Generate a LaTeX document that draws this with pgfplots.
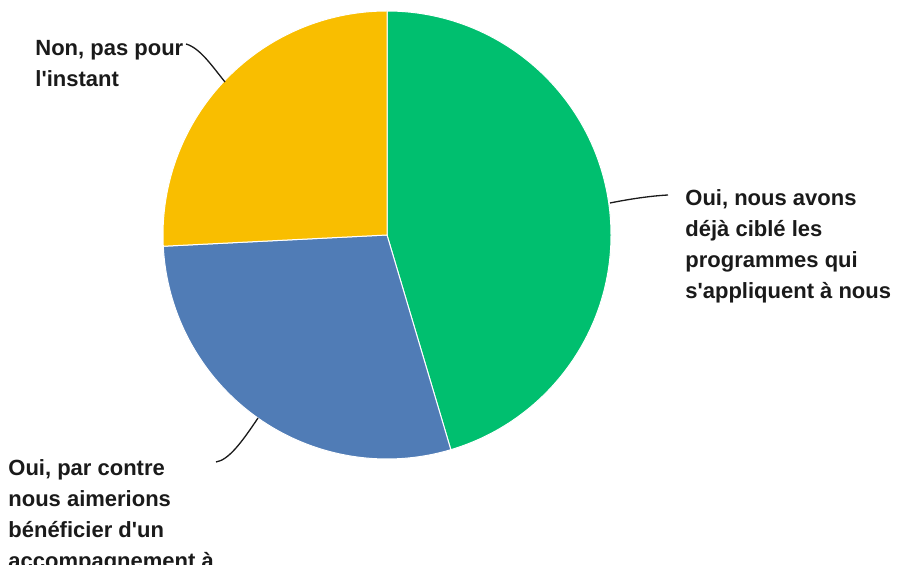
\documentclass[border=0pt]{standalone}
\usepackage{pgfplots}
\usepackage{pgfplotstable}
\pgfplotsset{compat=1.18}
\usepackage{fontspec}
\setmainfont{Liberation Sans}[Ligatures=TeXOff]

\definecolor{smgreen}{HTML}{00BF6F}
\definecolor{smblue}{HTML}{507CB6}
\definecolor{smyellow}{HTML}{F9BE00}
\definecolor{labeltxt}{HTML}{1A1A1A}

% shares in percent, clockwise from 12 o'clock
\pgfplotstableread{
slice value
oui_cible 45.4
oui_accomp 28.8
non 25.8
}\piedata

\begin{document}
\begin{tikzpicture}
  \pgfplotstablegetelem{0}{value}\of\piedata \let\vA\pgfplotsretval
  \pgfplotstablegetelem{1}{value}\of\piedata \let\vB\pgfplotsretval
  \pgfmathsetmacro\aA{90}
  \pgfmathsetmacro\aB{90-3.6*\vA}
  \pgfmathsetmacro\aC{\aB-3.6*\vB}
  \pgfmathsetmacro\aD{-270}
  \begin{axis}[
      scale only axis, width=449.5pt, height=282.5pt,
      xmin=0, xmax=899, ymin=0, ymax=565, y dir=reverse,
      hide axis, clip=false
    ]
    \fill[smgreen, draw=white, line width=0.5pt] (axis cs:387,235) -- (axis cs:{387+224*cos(\aA)},{235-224*sin(\aA)})
      arc[start angle=\aA, end angle=\aB, radius=112pt] -- cycle;
    \fill[smblue, draw=white, line width=0.5pt] (axis cs:387,235) -- (axis cs:{387+224*cos(\aB)},{235-224*sin(\aB)})
      arc[start angle=\aB, end angle=\aC, radius=112pt] -- cycle;
    \fill[smyellow, draw=white, line width=0.5pt] (axis cs:387,235) -- (axis cs:{387+224*cos(\aC)},{235-224*sin(\aC)})
      arc[start angle=\aC, end angle=\aD, radius=112pt] -- cycle;

    % leader lines
    \draw[labeltxt, line width=0.65pt] (axis cs:186,44) .. controls (axis cs:200,48) and (axis cs:212,66) .. (axis cs:225,82);
    \draw[labeltxt, line width=0.65pt] (axis cs:610,203) .. controls (axis cs:630,199) and (axis cs:650,196) .. (axis cs:668,195);
    \draw[labeltxt, line width=0.65pt] (axis cs:258,418) .. controls (axis cs:240,445) and (axis cs:228,460) .. (axis cs:216,462);

    % base anchor sits on the last line of each label
    \tikzset{lab/.style={anchor=base west, inner sep=0pt, align=left, text=labeltxt,
        font=\fontsize{11}{15.5}\selectfont\bfseries}}
    \node[lab] at (axis cs:35,87) {Non, pas pour\\l'instant};
    \node[lab] at (axis cs:685,299) {Oui, nous avons\\déjà ciblé les\\programmes qui\\s'appliquent à nous};
    \node[lab] at (axis cs:8,569) {Oui, par contre\\nous aimerions\\bénéficier d'un\\accompagnement à};

    \coordinate (bl) at (rel axis cs:0,0);
    \coordinate (tr) at (rel axis cs:1,1);
  \end{axis}
  \pgfresetboundingbox
  \path[use as bounding box] (bl) rectangle (tr);
\end{tikzpicture}
\end{document}
